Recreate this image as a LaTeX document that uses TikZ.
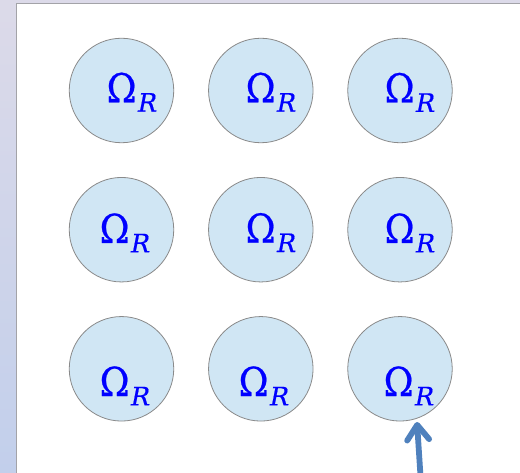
\documentclass[tikz,border=0pt]{standalone}
\usepackage{fontspec}
\setmainfont{DejaVu Serif}
\usetikzlibrary{arrows.meta}
\definecolor{bgtop}{HTML}{DCDAE9}
\definecolor{bgbot}{HTML}{C2CFEB}
\definecolor{panelrule}{HTML}{A3A3A8}
\definecolor{discfill}{HTML}{D0E6F4}
\definecolor{discedge}{HTML}{8A8A8A}
\definecolor{labelblue}{HTML}{0000FF}
\definecolor{pointer}{HTML}{4F81BD}
\newfontfamily\omfont[FakeBold=0.6]{DejaVu Serif}
\newfontfamily\subfont[FakeBold=0.5]{DejaVu Serif Italic}
\newcommand{\omegaR}{\scalebox{0.9}[1]{\omfont\fontsize{40}{40}\selectfont Ω}\kern1.5pt\raisebox{-9.4pt}{\subfont\fontsize{25.5}{25.5}\selectfont R}}
\tikzset{
  disc/.style={circle, draw=discedge, line width=0.8pt, fill=discfill,
    minimum size=104.5pt, inner sep=0pt},
  domlabel/.style={anchor=base west, inner sep=0pt, text=labelblue},
  pointerline/.style={draw=pointer, line width=5.8pt, line cap=round,
    -{Straight Barb[length=15pt, width=22pt, line cap=round, line join=round]}}
}
\begin{document}
\begin{tikzpicture}[x=1pt, y=-1pt]
  % window backdrop and white panel
  \shade[top color=bgtop, bottom color=bgbot] (0,0) rectangle (520,473);
  \useasboundingbox (0,0) rectangle (520,473);
  \fill[white] (16.5,3.5) rectangle (520,473);
  \draw[panelrule, line width=1.2pt] (16.5,473) -- (16.5,3.5) -- (520,3.5);
  % grid of discs
  \node[disc] (c11) at (121.5,90.5) {};
  \node[disc] (c12) at (260.8,90.5) {};
  \node[disc] (c13) at (400,90.5) {};
  \node[disc] (c21) at (121.5,229.7) {};
  \node[disc] (c22) at (260.8,229.7) {};
  \node[disc] (c23) at (400,229.7) {};
  \node[disc] (c31) at (121.5,368.8) {};
  \node[disc] (c32) at (260.8,368.8) {};
  \node[disc] (c33) at (400,368.8) {};
  % labels
  \node[domlabel] (t11) at (106.5,102.3) {\omegaR};
  \node[domlabel] (t12) at (245.5,102.3) {\omegaR};
  \node[domlabel] (t13) at (384.5,102.5) {\omegaR};
  \node[domlabel] (t21) at (99.5,243) {\omegaR};
  \node[domlabel] (t22) at (245.5,242.7) {\omegaR};
  \node[domlabel] (t23) at (384.5,243) {\omegaR};
  \node[domlabel] (t31) at (99.5,396) {\omegaR};
  \node[domlabel] (t32) at (238.5,396) {\omegaR};
  \node[domlabel] (t33) at (383.5,396) {\omegaR};
  % pointer into the last disc
  \coordinate (pbase) at (420.5,476);
  \coordinate (ptip) at (417,422);
  \draw[pointerline] (pbase) -- (ptip);
\end{tikzpicture}
\end{document}
